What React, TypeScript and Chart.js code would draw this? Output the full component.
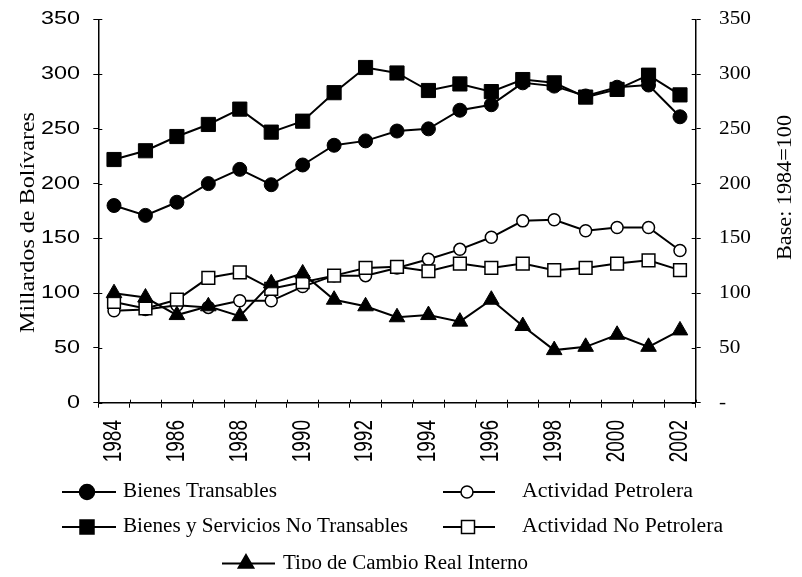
import { useEffect, useRef } from 'react';
import { Chart, registerables } from 'chart.js';

Chart.register(...registerables);

const years = ['1984', '1985', '1986', '1987', '1988', '1989', '1990', '1991', '1992', '1993', '1994', '1995', '1996', '1997', '1998', '1999', '2000', '2001', '2002'];

const bienesTransables = [180, 171, 183, 200, 213, 199, 217, 235, 239, 248, 250, 267, 272, 292, 289, 280, 288, 290, 261];
const bienesServiciosNoTransables = [222, 230, 243, 254, 268, 247, 257, 283, 306, 301, 285, 291, 284, 295, 292, 279, 286, 299, 281];
const actividadPetrolera = [84, 85, 89, 87, 93, 93, 106, 116, 116, 123, 131, 140, 151, 166, 167, 157, 160, 160, 139];
const actividadNoPetrolera = [92, 86, 94, 114, 119, 104, 110, 116, 123, 124, 120, 127, 123, 127, 121, 123, 127, 130, 121];
const tipoCambioRealInterno = [100, 96, 80, 88, 79, 109, 118, 94, 88, 78, 80, 74, 94, 70, 48, 51, 62, 51, 66];

const yTickValues = [0, 50, 100, 150, 200, 250, 300, 350];

const leftTitle = 'Millardos de Bolívares';
const rightTitle = 'Base: 1984=100';

const SERIF = '"Liberation Serif", "Times New Roman", serif';
const SANS = '"Liberation Sans", Arial, sans-serif';

type Shape = 'circle' | 'rect' | 'triangle';

function drawMarker(ctx: CanvasRenderingContext2D, shape: Shape, x: number, y: number, r: number, fill: string) {
  ctx.beginPath();
  if (shape === 'circle') {
    ctx.arc(x, y, r, 0, Math.PI * 2);
  } else if (shape === 'rect') {
    ctx.rect(x - r, y - r, r * 2, r * 2);
  } else {
    ctx.moveTo(x, y - r);
    ctx.lineTo(x + r * 0.866, y + r * 0.5);
    ctx.lineTo(x - r * 0.866, y + r * 0.5);
    ctx.closePath();
  }
  ctx.fillStyle = fill;
  ctx.fill();
  ctx.lineWidth = 1.5;
  ctx.strokeStyle = '#000';
  ctx.stroke();
}

function drawFittedText(ctx: CanvasRenderingContext2D, text: string, x: number, y: number, width: number, font: string) {
  ctx.save();
  ctx.font = font;
  const w = ctx.measureText(text).width;
  ctx.translate(x, y);
  ctx.scale(width / w, 1);
  ctx.textAlign = 'left';
  ctx.textBaseline = 'middle';
  ctx.fillStyle = '#000';
  ctx.fillText(text, 0, 0);
  ctx.restore();
}

const decorPlugin = {
  id: 'decor',
  afterDraw(chart: any) {
    const ctx: CanvasRenderingContext2D = chart.ctx;
    const xs = chart.scales.x;
    const ys = chart.scales.y;
    const ca = chart.chartArea;

    // inner halves of tick marks
    ctx.save();
    ctx.strokeStyle = '#000';
    ctx.lineWidth = 1;
    ctx.beginPath();
    yTickValues.forEach((v) => {
      const py = Math.round(ys.getPixelForValue(v)) + 0.5;
      ctx.moveTo(ca.left, py);
      ctx.lineTo(ca.left + 4, py);
      ctx.moveTo(ca.right - 4, py);
      ctx.lineTo(ca.right, py);
    });
    for (let i = 0; i <= years.length; i++) {
      const px = Math.round(ca.left + (i * (ca.right - ca.left)) / years.length) + 0.5;
      ctx.moveTo(px, ca.bottom);
      ctx.lineTo(px, ca.bottom - 3);
    }
    ctx.stroke();
    ctx.restore();

    // left tick labels
    ctx.save();
    ctx.fillStyle = '#000';
    ctx.font = `18px ${SANS}`;
    ctx.textBaseline = 'middle';
    ctx.textAlign = 'right';
    yTickValues.forEach((v) => {
      const py = ys.getPixelForValue(v);
      ctx.save();
      ctx.translate(72, py);
      ctx.scale(1.3, 1);
      ctx.fillText(String(v), 0, 0);
      ctx.restore();
    });
    // right tick labels
    ctx.font = `19px ${SERIF}`;
    ctx.textAlign = 'left';
    yTickValues.forEach((v) => {
      const py = ys.getPixelForValue(v);
      ctx.save();
      ctx.translate(711, py);
      ctx.scale(1.12, 1);
      ctx.fillText(v === 0 ? '-' : String(v), 0, 0);
      ctx.restore();
    });
    // x labels
    ctx.font = `19px ${SANS}`;
    ctx.textAlign = 'right';
    years.forEach((yr, i) => {
      if (i % 2 !== 0) return;
      const px = xs.getPixelForValue(i);
      ctx.save();
      ctx.translate(px, 412);
      ctx.rotate(-Math.PI / 2);
      ctx.scale(1, 1.32);
      ctx.fillText(yr, 0, 0);
      ctx.restore();
    });
    ctx.restore();

    // axis titles
    ctx.save();
    ctx.font = `22px ${SERIF}`;
    let w = ctx.measureText(leftTitle).width;
    ctx.translate(20, 214.5);
    ctx.rotate(-Math.PI / 2);
    ctx.scale(221 / w, 1);
    ctx.textAlign = 'center';
    ctx.textBaseline = 'middle';
    ctx.fillStyle = '#000';
    ctx.fillText(leftTitle, 0, 0);
    ctx.restore();

    ctx.save();
    ctx.font = `20px ${SERIF}`;
    w = ctx.measureText(rightTitle).width;
    ctx.translate(778, 179.5);
    ctx.rotate(-Math.PI / 2);
    ctx.scale(145 / w, 1);
    ctx.textAlign = 'center';
    ctx.textBaseline = 'middle';
    ctx.fillStyle = '#000';
    ctx.fillText(rightTitle, 0, 0);
    ctx.restore();

    // legend
    const items = [
      { label: 'Bienes Transables', shape: 'circle' as Shape, fill: '#000', r: 7.5, x0: 54, x1: 108, mx: 79, tx: 115, y: 484, tw: 154 },
      { label: 'Actividad Petrolera', shape: 'circle' as Shape, fill: '#fff', r: 6, x0: 435, x1: 487, mx: 459, tx: 514, y: 484, tw: 171 },
      { label: 'Bienes y Servicios No Transables', shape: 'rect' as Shape, fill: '#000', r: 7, x0: 54, x1: 108, mx: 79, tx: 115, y: 519, tw: 285 },
      { label: 'Actividad No Petrolera', shape: 'rect' as Shape, fill: '#fff', r: 6.5, x0: 435, x1: 487, mx: 460, tx: 514, y: 519, tw: 201 },
      { label: 'Tipo de Cambio Real Interno', shape: 'triangle' as Shape, fill: '#000', r: 9, x0: 214, x1: 267, mx: 238, tx: 275, y: 555.5, tw: 245 },
    ];
    items.forEach((it) => {
      ctx.save();
      ctx.strokeStyle = '#000';
      ctx.lineWidth = 2;
      ctx.beginPath();
      ctx.moveTo(it.x0, it.y);
      ctx.lineTo(it.x1, it.y);
      ctx.stroke();
      drawMarker(ctx, it.shape, it.mx, it.y, it.r, it.fill);
      ctx.restore();
      drawFittedText(ctx, it.label, it.tx, it.y, it.tw, `20px ${SERIF}`);
    });
  },
};

export default function App() {
  const ref = useRef<HTMLCanvasElement>(null);

  useEffect(() => {
    if (!ref.current) return;
    const base = {
      borderColor: '#000',
      borderWidth: 2,
      pointBorderColor: '#000',
      tension: 0,
      fill: false,
    };
    const chart = new Chart(ref.current, {
      type: 'line',
      data: {
        labels: years,
        datasets: [
          { ...base, label: 'Tipo de Cambio Real Interno', data: tipoCambioRealInterno, pointStyle: 'triangle', pointRadius: 9, pointBackgroundColor: '#000', pointBorderWidth: 1, yAxisID: 'y' },
          { ...base, label: 'Bienes y Servicios No Transables', data: bienesServiciosNoTransables, pointStyle: 'rect', pointRadius: 10, pointBackgroundColor: '#000', pointBorderWidth: 1, yAxisID: 'y' },
          { ...base, label: 'Bienes Transables', data: bienesTransables, pointStyle: 'circle', pointRadius: 7, pointBackgroundColor: '#000', pointBorderWidth: 1, yAxisID: 'y' },
          { ...base, label: 'Actividad No Petrolera', data: actividadNoPetrolera, pointStyle: 'rect', pointRadius: 9, pointBackgroundColor: '#fff', pointBorderWidth: 1.5, yAxisID: 'y' },
          { ...base, label: 'Actividad Petrolera', data: actividadPetrolera, pointStyle: 'circle', pointRadius: 6, pointBackgroundColor: '#fff', pointBorderWidth: 1.5, yAxisID: 'y' },
        ] as any,
      },
      options: {
        responsive: false,
        animation: false,
        events: [],
        layout: { padding: { top: 11.3, left: 0, right: 0, bottom: 0 } },
        plugins: { legend: { display: false }, tooltip: { enabled: false } },
        scales: {
          x: {
            type: 'category',
            offset: true,
            grid: { offset: true, drawOnChartArea: false, color: '#000', tickLength: 5, lineWidth: 1 },
            border: { color: '#000', width: 1.5 },
            ticks: { display: false, autoSkip: false },
            afterFit: (s: any) => { s.height = 166.3; },
          },
          y: {
            position: 'left',
            min: 0,
            max: 350,
            grid: { drawOnChartArea: false, color: '#000', tickLength: 5, lineWidth: 1 },
            border: { color: '#000', width: 1.5 },
            ticks: { display: false, stepSize: 50 },
            afterFit: (s: any) => { s.width = 90.3; },
          },
          y2: {
            position: 'right',
            min: 0,
            max: 350,
            grid: { drawOnChartArea: false, color: '#000', tickLength: 5, lineWidth: 1 },
            border: { color: '#000', width: 1.5 },
            ticks: { display: false, stepSize: 50 },
            afterFit: (s: any) => { s.width = 98.3; },
          },
        },
      } as any,
      plugins: [decorPlugin],
    });
    return () => chart.destroy();
  }, []);

  return <canvas ref={ref} width={786} height={561} style={{ display: 'block' }} />;
}
